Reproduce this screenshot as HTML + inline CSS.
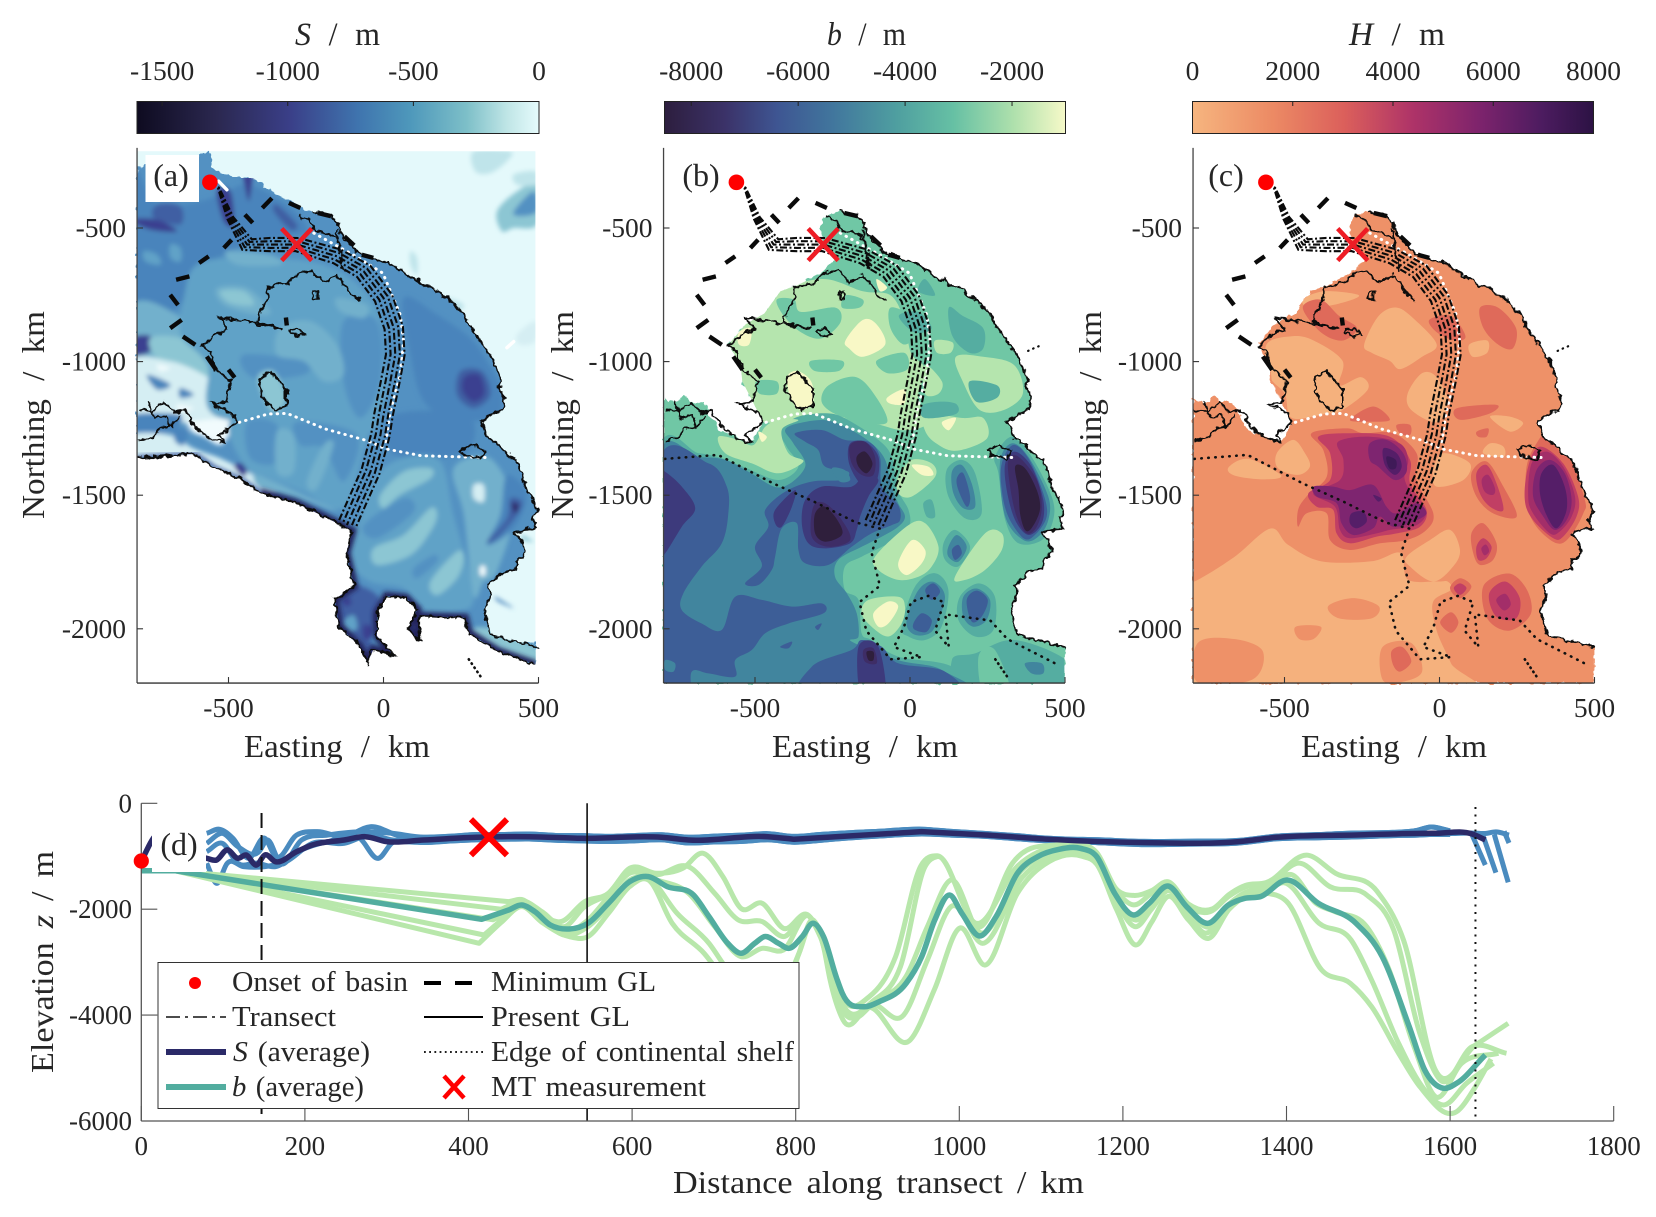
<!DOCTYPE html>
<html lang="en">
<head>
<meta charset="utf-8">
<title>Basin maps and transect elevation</title>
<style>
html,body{margin:0;padding:0;background:#fff}
svg{display:block}
text{font-family:"Liberation Serif",serif;fill:#262626}
.i{font-style:italic}
.w{word-spacing:.3em}
.n{word-spacing:.16em}
.l{word-spacing:.08em}
</style>
</head>
<body>
<svg id="fig" xmlns="http://www.w3.org/2000/svg" width="1656" height="1217" viewBox="0 0 1656 1217">
<defs>
<linearGradient id="gS"><stop offset="0" stop-color="#0e0b20"/><stop offset=".2" stop-color="#2b2850"/><stop offset=".38" stop-color="#3a3f88"/><stop offset=".55" stop-color="#3f74ae"/><stop offset=".68" stop-color="#4e98bb"/><stop offset=".82" stop-color="#7dbfc8"/><stop offset=".92" stop-color="#bfe5e6"/><stop offset="1" stop-color="#e6fbfc"/></linearGradient>
<linearGradient id="gB"><stop offset="0" stop-color="#2d1e3e"/><stop offset=".15" stop-color="#3b3268"/><stop offset=".28" stop-color="#3e5592"/><stop offset=".42" stop-color="#41769d"/><stop offset=".58" stop-color="#4f9fa0"/><stop offset=".72" stop-color="#66c0a4"/><stop offset=".87" stop-color="#aee0ac"/><stop offset="1" stop-color="#f6f9c8"/></linearGradient>
<linearGradient id="gH"><stop offset="0" stop-color="#f6b57f"/><stop offset=".2" stop-color="#ec8a64"/><stop offset=".38" stop-color="#db5f5b"/><stop offset=".55" stop-color="#ae3368"/><stop offset=".72" stop-color="#7c236c"/><stop offset=".87" stop-color="#4d1c60"/><stop offset="1" stop-color="#2c1244"/></linearGradient>
<filter id="soft" x="-5%" y="-5%" width="110%" height="110%"><feGaussianBlur stdDeviation="2.4"/></filter>
<filter id="rough" filterUnits="userSpaceOnUse" x="0" y="130" width="1656" height="570"><feTurbulence type="fractalNoise" baseFrequency="0.16" numOctaves="2" seed="4" result="n"/><feDisplacementMap in="SourceGraphic" in2="n" scale="7" xChannelSelector="R" yChannelSelector="G"/></filter>
</defs>

<g>
<text class="w" x="295" y="45" font-size="33" textLength="85" lengthAdjust="spacingAndGlyphs"><tspan class="i">S</tspan> / m</text>
<text class="w" x="827" y="45" font-size="33" textLength="79" lengthAdjust="spacingAndGlyphs"><tspan class="i">b</tspan> / m</text>
<text class="w" x="1349" y="45" font-size="33" textLength="96" lengthAdjust="spacingAndGlyphs"><tspan class="i">H</tspan> / m</text>
</g>
<rect x="137" y="101.5" width="402" height="32" fill="url(#gS)" stroke="#222" stroke-width="1"/>
<rect x="664.5" y="101.5" width="401" height="32" fill="url(#gB)" stroke="#222" stroke-width="1"/>
<rect x="1192.5" y="101.5" width="401" height="32" fill="url(#gH)" stroke="#222" stroke-width="1"/>

<g id="maps"></g>

<g>
<text class="w" x="244" y="757" font-size="32" textLength="186" lengthAdjust="spacingAndGlyphs">Easting / km</text>
<text class="w" x="772" y="757" font-size="32" textLength="186" lengthAdjust="spacingAndGlyphs">Easting / km</text>
<text class="w" x="1301" y="757" font-size="32" textLength="186" lengthAdjust="spacingAndGlyphs">Easting / km</text>
<text class="w" transform="translate(44 519) rotate(-90)" font-size="32" textLength="208" lengthAdjust="spacingAndGlyphs">Northing / km</text>
<text class="w" transform="translate(573 519) rotate(-90)" font-size="32" textLength="208" lengthAdjust="spacingAndGlyphs">Northing / km</text>
<text class="w" transform="translate(1101 519) rotate(-90)" font-size="32" textLength="208" lengthAdjust="spacingAndGlyphs">Northing / km</text>
</g>

<g id="transectChart"></g>

<text class="n" x="673" y="1193" font-size="32" textLength="411" lengthAdjust="spacingAndGlyphs">Distance along transect / km</text>
<text class="n" transform="translate(53 1073) rotate(-90)" font-size="32" textLength="222" lengthAdjust="spacingAndGlyphs">Elevation <tspan class="i">z</tspan> / m</text>

<g id="legendGroup">
<rect x="158" y="962.5" width="641" height="146" fill="#fff" stroke="#333" stroke-width="1"/>
<circle cx="195" cy="983" r="6" fill="#f00"/>
<text class="l" x="232" y="991" font-size="28" textLength="176" lengthAdjust="spacingAndGlyphs">Onset of basin</text>
<line x1="166" x2="226" y1="1017" y2="1017" stroke="#111" stroke-width="1.6" stroke-dasharray="14 5 3 5"/>
<text class="l" x="232" y="1026" font-size="28" textLength="104" lengthAdjust="spacingAndGlyphs">Transect</text>
<line x1="166" x2="226" y1="1052" y2="1052" stroke="#2b2a68" stroke-width="6"/>
<text class="l" x="233" y="1061" font-size="28" textLength="137" lengthAdjust="spacingAndGlyphs"><tspan class="i">S</tspan> (average)</text>
<line x1="166" x2="226" y1="1087" y2="1087" stroke="#52ad9f" stroke-width="6"/>
<text class="l" x="232" y="1096" font-size="28" textLength="132" lengthAdjust="spacingAndGlyphs"><tspan class="i">b</tspan> (average)</text>
<line x1="424" x2="483" y1="983" y2="983" stroke="#000" stroke-width="4" stroke-dasharray="17 14"/>
<text class="l" x="491" y="991" font-size="28" textLength="165" lengthAdjust="spacingAndGlyphs">Minimum GL</text>
<line x1="424" x2="483" y1="1017" y2="1017" stroke="#000" stroke-width="2"/>
<text class="l" x="491" y="1026" font-size="28" textLength="139" lengthAdjust="spacingAndGlyphs">Present GL</text>
<line x1="424" x2="483" y1="1052" y2="1052" stroke="#000" stroke-width="1.8" stroke-dasharray="1.8 3.4"/>
<text class="l" x="491" y="1061" font-size="28" textLength="303" lengthAdjust="spacingAndGlyphs">Edge of continental shelf</text>
<g stroke="#f00" stroke-width="4.5"><line x1="444" x2="464" y1="1076" y2="1098"/><line x1="464" x2="444" y1="1076" y2="1098"/></g>
<text class="l" x="491" y="1096" font-size="28" textLength="215" lengthAdjust="spacingAndGlyphs">MT measurement</text>
</g>
</svg>
<script>
// ---------- Shared map geography (easting km, northing km, flat lists) ----------
const coastEast=[-230,-437,-205,-445,-180,-448,-163,-462,-150,-480,-140,-520,-125,-540,-100,-570,-85,-590,-60,-600,-40,-610,-20,-620,15,-630,30,-640,60,-665,92,-691,110,-695,125,-715,160,-722,185,-750,210,-765,237,-798,262,-825,275,-860,303,-905,325,-945,348,-982,362,-1020,381,-1074,372,-1100,390,-1130,387,-1181,350,-1195,314,-1227,325,-1255,337,-1288,370,-1310,395,-1345,426,-1364,445,-1420,459,-1472,478,-1510,498,-1563,480,-1585,492,-1625,455,-1630,426,-1640,445,-1670,459,-1716,430,-1745,426,-1778,380,-1790,337,-1839,345,-1870,326,-1931,335,-1970,348,-2022,400,-2040,440,-2050,498,-2068];
const domainWest=[498,-2203,-795,-2203,-795,-1135,-760,-1160,-730,-1130,-700,-1150,-660,-1160,-641,-1211,-618,-1257,-570,-1275,-530,-1303,-505,-1290,-474,-1227,-507,-1150,-541,-1074,-546,-1013,-585,-936,-530,-860,-470,-820,-418,-737,-363,-714,-285,-668,-241,-622,-274,-569,-290,-500,-274,-454];
const iceFront=[-795,-1359,-706,-1352,-607,-1346,-546,-1396,-459,-1440,-398,-1490,-286,-1527,-175,-1590,-101,-1634,-120,-1715,-95,-1840,-157,-1890,-144,-1990,-77,-2065,-52,-2127,-33,-2077,35,-2102,-21,-2027,-21,-1940,10,-1877,72,-1884,109,-1927,78,-2002,115,-2040,115,-1952,263,-1959,275,-2015,368,-2084,491,-2134];
const landNorth=[-795,-275,-700,-250,-600,-235,-585,-219,-558,-219,-553,-275,-483,-313,-419,-313,-365,-363,-290,-405,-257,-430];
const groundingLine=[-324,-876,-408,-852,-397,-814,-374,-768,-374,-722,-308,-706,-274,-668,-230,-661,-197,-706,-152,-676,-130,-706,-102,-752,-74,-775];
const groundingLineWest=[-324,-876,-400,-862,-470,-845,-530,-837,-502,-882,-540,-895,-585,-944,-560,-960,-541,-1028,-491,-1074,-508,-1150,-552,-1158,-485,-1196,-474,-1227,-530,-1273,-513,-1303,-560,-1290,-608,-1242,-641,-1181,-675,-1190,-708,-1150,-745,-1185,-791,-1181];
const groundingLineIslands=[[-397,-1058,-363,-1035,-313,-1105,-313,-1166,-352,-1181,-391,-1135,-402,-1089,-397,-1058],[-302,-882,-274,-875,-252,-898,-274,-905,-302,-890,-302,-882],[-228,-740,-212,-738,-212,-765,-228,-765,-228,-740],[248,-1334,287,-1311,326,-1334,314,-1364,259,-1349,248,-1334],[-791,-1295,-752,-1288,-720,-1250,-685,-1242,-660,-1200],[-760,-1150,-740,-1210,-700,-1200,-690,-1250],[-152,-507,-140,-590,-130,-660],[-274,-454,-240,-470,-220,-510,-180,-520,-150,-540]];
const minimumGlDashes=[[-391,-425,-360,-388],[-305,-406,-268,-425],[-212,-444,-169,-456],[-447,-450,-422,-481],[-515,-575,-490,-544],[-595,-631,-564,-606],[-669,-694,-626,-681],[-688,-750,-663,-788],[-688,-875,-651,-844],[-647,-906,-607,-937],[-126,-531,-95,-565],[-70,-600,-33,-612],[-570,-981,-540,-1031],[-315,-835,-312,-865],[-500,-1030,-480,-1060]];
const shelfNorthSouth=[-225,-519,-89,-606,-2,-669,54,-824,65,-924,54,-1049,22,-1186,6,-1312];
const shelfEastWest=[-465,-1227,-373,-1196,-311,-1194,-188,-1252,-52,-1296,10,-1327,121,-1352,207,-1355,331,-1359];
const shelfSouth=[-791,-1364,-619,-1349,-441,-1456,-308,-1525,-174,-1602,-97,-1625,-124,-1716,-97,-1839,-163,-1900,-141,-2007,-63,-2114,37,-2106,-52,-2068,-19,-1992,3,-1900,59,-1877,109,-1900,81,-2007,125,-2068,114,-1946,259,-1969,314,-2038,481,-2137];
const shelfSpur=[275,-2114,320,-2190];
const shelfIsland=[381,-960,400,-950,425,-938];
const transectCentre=[-560,-329,-532,-350,-494,-463,-440,-562,-365,-562,-279,-562,-150,-606,-64,-662,0,-762,33,-874,38,-974,22,-1074,0,-1199,-10,-1275,-42,-1412,-85,-1524,-118,-1612];
const transectHalfWidth=[0,2,10,25,25,25,28,30,30,30,30,30,30,30,30,30,30];
const transectOffsets=[-1,-.5,0,.5,1];
const onsetPoint=[-560,-329];
const mtPoint=[-280,-562];
const surfaceWhiteFlecks=[[-532,-325,-505,-357],[398,-948,420,-925]];

// ---------- Panel (a) surface elevation contours: [colour index, flat km polygon] ----------
const surfaceColours=['#e4f9fb','#bfe4ea','#8cc6d3','#72b0cc','#61a2c7','#5391c2','#4884bc','#3f5fa3','#3b4090','#2f2766','#f1fbfd','#d5eef3'];
const surfaceBaseLevel=5;
const surfaceOcean=[
[1,[291,-213,409,-213,398,-250,345,-294,296,-288]],
[2,[366,-438,431,-363,495,-338,495,-487,420,-500,382,-512]],
[5,[420,-438,484,-363,495,-438,441,-456]],
[1,[420,-300,490,-288,490,-338,431,-338]],
[1,[87,-587,108,-612,108,-675,87,-637]],
[1,[205,-762,259,-787,237,-812]],
[11,[431,-899,490,-849,490,-924,441,-937]],
[2,[447,-1649,484,-1674,452,-1668]],
[6,[361,-1880,420,-1923,371,-1899]]
];
const surfaceContours=[
[6,[-815,-275,-730,-413,-591,-400,-505,-363,-430,-338,-300,-425,-247,-512,-344,-537,-472,-575,-612,-675,-666,-799,-815,-824]],
[7,[-730,-413,-655,-419,-655,-487,-741,-462]],
[8,[-815,-469,-730,-469,-666,-512,-752,-506]],
[8,[-537,-363,-494,-363,-483,-487,-515,-475]],
[8,[-451,-300,-424,-300,-435,-400]],
[7,[-344,-413,-279,-487,-300,-506,-354,-438]],
[4,[-773,-587,-730,-600,-720,-637,-768,-625]],
[4,[-687,-562,-655,-575,-655,-625,-687,-612]],
[3,[-815,-799,-666,-824,-580,-949,-537,-1074,-580,-1211,-815,-1211]],
[8,[-815,-912,-752,-905,-752,-962,-815,-974]],
[2,[-752,-912,-655,-912,-591,-974,-548,-1061,-601,-1074,-730,-987]],
[11,[-815,-999,-687,-999,-580,-1049,-526,-1099,-494,-1174,-483,-1211,-815,-1211]],
[6,[-815,-1200,-655,-1200,-687,-1262,-815,-1262]],
[10,[-634,-1225,-483,-1212,-494,-1262,-526,-1312,-580,-1281,-618,-1262,-644,-1212]],
[6,[-763,-1049,-687,-1086,-730,-1105]],
[6,[-655,-1099,-612,-1124,-655,-1136]],
[10,[-666,-1161,-612,-1174,-655,-1186]],
[10,[-558,-1124,-526,-1149,-558,-1161]],
[10,[-730,-1011,-687,-1024,-720,-1036]],
[11,[-815,-1275,-687,-1275,-612,-1325,-526,-1362,-440,-1412,-333,-1480,-387,-1499,-440,-1462,-537,-1412,-612,-1356,-815,-1362]],
[6,[-677,-1250,-634,-1262,-644,-1312,-671,-1300]],
[8,[-483,-1387,-440,-1387,-451,-1431]],
[4,[-601,-637,-440,-612,-193,-637,-42,-762,0,-949,-42,-1211,-526,-1211,-569,-1011,-655,-899,-644,-762]],
[4,[-472,-1200,-42,-1200,-53,-1287,-64,-1337,-129,-1549,-257,-1487,-365,-1437,-451,-1387]],
[5,[-129,-849,-21,-849,-10,-1074,-75,-1211,-129,-1074]],
[5,[-451,-974,-257,-999,-257,-1049,-419,-1061]],
[5,[-440,-1225,-344,-1237,-344,-1375,-430,-1362]],
[5,[-279,-1225,-85,-1275,-129,-1449,-193,-1325,-268,-1312]],
[3,[-537,-725,-440,-725,-365,-812,-408,-824,-515,-787]],
[2,[-526,-737,-451,-737,-419,-787,-494,-781]],
[3,[-333,-874,-236,-849,-150,-937,-129,-1049,-193,-1074,-257,-999,-344,-974]],
[3,[-505,-587,-365,-600,-333,-637,-472,-637]],
[3,[-150,-762,-53,-787,-64,-837,-139,-812]],
[3,[-344,-1262,-290,-1275,-290,-1412,-344,-1412]],
[3,[-193,-1312,-161,-1312,-215,-1474,-247,-1449]],
[3,[-408,-1424,-257,-1499,-150,-1562,-279,-1512,-397,-1474]],
[2,[-403,-1049,-354,-1036,-317,-1124,-333,-1180,-365,-1180,-397,-1111]],
[6,[65,-762,173,-824,280,-912,334,-999,377,-1099,366,-1211,226,-1211,130,-1149,87,-974]],
[6,[33,-1200,269,-1200,280,-1325,173,-1362,22,-1337]],
[7,[248,-1036,318,-1036,345,-1124,291,-1174,237,-1124]],
[8,[262,-1056,310,-1050,325,-1120,290,-1150,255,-1110]],
[4,[-85,-1624,0,-1399,173,-1362,226,-1574,291,-1874,237,-1936,130,-1936,65,-1849,-42,-1824,-107,-1749]],
[5,[-64,-1612,65,-1512,97,-1562,-21,-1661]],
[5,[97,-1774,162,-1724,173,-1749,108,-1811]],
[2,[-10,-1499,65,-1412,151,-1399,151,-1437,54,-1499,0,-1549]],
[2,[65,-1649,151,-1549,173,-1574,151,-1637,87,-1724,-21,-1761,-32,-1699]],
[2,[151,-1824,237,-1711,259,-1736,237,-1811,173,-1874]],
[3,[226,-1399,345,-1362,420,-1549,366,-1786,323,-1824,291,-1874,259,-1574]],
[6,[398,-1425,463,-1499,420,-1624,334,-1686,377,-1574]],
[7,[409,-1512,447,-1524,431,-1574,366,-1661,334,-1674,398,-1587]],
[9,[414,-1530,436,-1537,425,-1568]],
[11,[291,-1462,323,-1462,323,-1524,291,-1512]],
[10,[312,-1767,328,-1767,328,-1799,312,-1799]],
[2,[280,-2011,345,-1998,495,-2073,495,-2136,366,-2073]],
[7,[-161,-1874,-96,-1836,-21,-1874,-10,-1936,-42,-2048,33,-2098,33,-2117,-42,-2123,-85,-2098,-150,-1973]],
[4,[-129,-1973,-96,-1949,-85,-1998,-118,-2011]],
[8,[-129,-1886,-107,-1886,-107,-1911,-129,-1911]],
[8,[-64,-1986,-32,-1998,-42,-2036,-64,-2036]],
[7,[78,-2002,115,-1950,115,-2050]]
];

// ---------- Panel (b) bed elevation contours ----------
const bedColours=['#2f1f3c','#3e2d66','#3d3a7c','#3d5e97','#41859e','#55ada1','#70c7a5','#b5e5ae','#f8f8c6'];
const bedBaseLevel=6;
const bedContours=[
[7,[-441,-752,-285,-691,-152,-737,-63,-752,-19,-844,3,-967,48,-1028,26,-1135,59,-1227,-19,-1257,-130,-1227,-241,-1211,-363,-1242,-463,-1227,-541,-1211,-574,-1013,-585,-921]],
[6,[-430,-768,-374,-768,-352,-814,-241,-798,-224,-852,-285,-913,-352,-890,-407,-829]],
[6,[-208,-752,-152,-768,-163,-798,-219,-798]],
[6,[-108,-997,-19,-967,-8,-1028,-74,-1043]],
[6,[-319,-997,-219,-997,-230,-1035,-307,-1035]],
[6,[-496,-1074,-430,-1074,-430,-1120,-485,-1120]],
[6,[-263,-1089,-174,-1058,-108,-1135,-74,-1227,-152,-1227,-241,-1196,-285,-1150]],
[6,[-63,-798,3,-829,26,-890,-19,-936,-63,-875]],
[7,[148,-982,236,-982,336,-1013,364,-1120,303,-1181,225,-1181,170,-1074]],
[7,[48,-1196,170,-1211,236,-1211,248,-1288,148,-1334,81,-1303,48,-1257]],
[7,[81,-921,137,-928,131,-967,87,-967]],
[7,[48,-1013,103,-1074,92,-1120,48,-1120]],
[5,[125,-798,170,-829,236,-875,236,-951,192,-967,137,-905]],
[5,[-36,-829,26,-814,70,-875,14,-890]],
[5,[37,-1166,92,-1150,148,-1158,148,-1196,48,-1211]],
[5,[192,-1074,281,-1089,281,-1135,214,-1150]],
[5,[48,-691,81,-752,26,-737]],
[8,[-208,-921,-152,-844,-108,-860,-80,-936,-152,-982,-196,-951]],
[8,[-396,-1058,-363,-1035,-319,-1074,-313,-1150,-352,-1181,-385,-1135]],
[8,[-74,-1135,-19,-1104,-19,-1158,-63,-1158]],
[8,[-108,-691,-74,-722,-97,-737]],
[8,[-552,-890,-513,-875,-519,-936,-552,-936]],
[8,[103,-1227,148,-1211,125,-1257]],
[5,[-811,-1343,-682,-1343,-607,-1362,-527,-1399,-424,-1443,-360,-1393,-398,-1318,-419,-1256,-360,-1206,-263,-1194,-199,-1219,-102,-1293,-59,-1356,-38,-1481,-5,-1555,-5,-1618,-70,-1680,-156,-1730,-210,-1767,-210,-1855,-166,-1892,-156,-2017,-124,-2042,-38,-2104,135,-2142,178,-2260,-811,-2260]],
[5,[135,-2117,210,-2092,339,-2042,516,-2129,516,-2260,178,-2260]],
[6,[221,-2104,274,-2079,328,-2260,242,-2260]],
[4,[371,-2129,425,-2129,430,-2167,392,-2167]],
[4,[-811,-1366,-682,-1358,-596,-1368,-521,-1412,-419,-1471,-338,-1393,-376,-1306,-403,-1256,-360,-1231,-274,-1219,-199,-1250,-124,-1306,-80,-1368,-59,-1468,-38,-1530,-16,-1580,-38,-1618,-91,-1655,-156,-1693,-231,-1742,-242,-1805,-204,-1867,-172,-1942,-166,-2029,-188,-2048,-38,-2117,102,-2154,145,-2260,-811,-2260]],
[3,[-811,-1381,-650,-1381,-591,-1468,-586,-1568,-607,-1680,-672,-1767,-731,-1867,-736,-1930,-672,-1980,-607,-2004,-564,-1880,-478,-1892,-381,-1917,-285,-1905,-279,-1942,-392,-1980,-467,-2017,-510,-2079,-564,-2117,-564,-2179,-650,-2167,-704,-2160,-715,-2260,-811,-2260]],
[4,[-790,-2117,-758,-2129,-763,-2160,-790,-2154]],
[3,[-419,-2067,-381,-2048,-392,-2073]],
[3,[-306,-1992,-285,-1980,-296,-2004]],
[3,[-328,-2260,-317,-2142,-188,-2079,-156,-2042,-91,-2067,-38,-2129,113,-2160,145,-2260]],
[2,[-166,-2067,-102,-2067,-80,-2260,-156,-2260]],
[1,[-150,-2079,-118,-2073,-107,-2129,-145,-2123]],
[0,[-140,-2086,-118,-2086,-118,-2117,-134,-2117]],
[2,[-811,-1412,-790,-1412,-736,-1468,-693,-1549,-736,-1618,-790,-1718,-811,-1730]],
[3,[-371,-1268,-285,-1256,-210,-1293,-134,-1300,-97,-1356,-91,-1468,-38,-1537,-32,-1593,-59,-1612,-124,-1643,-188,-1693,-263,-1761,-338,-1755,-360,-1705,-365,-1605,-414,-1624,-435,-1730,-446,-1780,-489,-1836,-532,-1830,-478,-1767,-500,-1693,-457,-1618,-467,-1555,-403,-1487,-317,-1449,-220,-1443,-199,-1412,-274,-1393,-296,-1331,-338,-1300]],
[4,[-252,-1399,-210,-1406,-193,-1443,-226,-1449]],
[2,[-435,-1555,-371,-1481,-381,-1543,-414,-1618,-435,-1605]],
[2,[-193,-1306,-145,-1300,-102,-1356,-107,-1443,-145,-1468,-177,-1431,-199,-1368]],
[2,[-338,-1518,-285,-1468,-188,-1468,-145,-1418,-102,-1443,-134,-1505,-161,-1580,-172,-1630,-193,-1680,-274,-1699,-328,-1680,-349,-1605]],
[1,[-312,-1543,-274,-1530,-220,-1593,-193,-1668,-263,-1693,-317,-1655]],
[0,[-306,-1568,-274,-1543,-231,-1599,-220,-1649,-274,-1674,-306,-1643]],
[1,[-193,-1312,-145,-1300,-113,-1356,-118,-1424,-156,-1424,-188,-1381]],
[0,[-172,-1356,-145,-1337,-121,-1381,-140,-1418,-166,-1393]],
[5,[285,-1418,274,-1356,328,-1281,392,-1356,457,-1505,462,-1593,425,-1668,350,-1680,307,-1593]],
[4,[290,-1381,328,-1306,382,-1356,446,-1505,446,-1593,414,-1655,366,-1668,307,-1580]],
[3,[296,-1381,333,-1312,382,-1362,430,-1493,441,-1580,403,-1649,366,-1661,317,-1580,296,-1481]],
[2,[307,-1381,339,-1337,392,-1393,430,-1518,425,-1605,382,-1649,339,-1593,312,-1481]],
[1,[317,-1368,350,-1356,409,-1443,425,-1543,409,-1618,376,-1643,344,-1580,323,-1468]],
[0,[339,-1393,371,-1399,409,-1481,419,-1555,392,-1624,371,-1630,355,-1568,350,-1481]],
[5,[118,-1406,167,-1368,210,-1418,231,-1568,178,-1587,124,-1505]],
[4,[135,-1412,167,-1387,199,-1456,210,-1543,172,-1549,140,-1493]],
[3,[151,-1437,172,-1418,194,-1505,183,-1543,156,-1481]],
[5,[43,-1530,70,-1518,81,-1580,54,-1580]],
[5,[108,-1680,145,-1630,194,-1693,156,-1767,113,-1742]],
[4,[124,-1693,151,-1649,183,-1693,156,-1749,124,-1730]],
[3,[135,-1705,156,-1686,167,-1718,145,-1742]],
[5,[161,-1880,221,-1830,274,-1880,269,-2004,210,-2029,156,-1967]],
[4,[172,-1880,215,-1849,258,-1892,247,-1967,204,-1992,172,-1955]],
[3,[183,-1892,215,-1857,251,-1892,231,-1955,199,-1973]],
[5,[-27,-1992,16,-1842,81,-1792,124,-1855,102,-1992,49,-2042,-5,-2029]],
[4,[-11,-1967,27,-1855,75,-1824,113,-1880,81,-1992,49,-2023,6,-2017]],
[3,[11,-1980,38,-1942,70,-1967,54,-2011,16,-2004]],
[3,[49,-1855,75,-1830,97,-1861,70,-1892]],
[7,[-113,-1730,-5,-1612,49,-1605,92,-1693,70,-1767,27,-1805,-38,-1817,-102,-1780]],
[8,[-38,-1755,6,-1668,49,-1705,38,-1755,-11,-1799]],
[7,[145,-1805,242,-1643,296,-1643,296,-1705,242,-1780,178,-1817]],
[7,[-134,-1892,-38,-1880,-16,-1917,-27,-1980,-70,-2029,-124,-1992,-156,-1942]],
[8,[-118,-1942,-70,-1898,-38,-1917,-70,-1980,-102,-1992]],
[7,[-618,-1281,-553,-1293,-505,-1312,-467,-1244,-424,-1219,-360,-1219,-414,-1256,-392,-1343,-344,-1374,-424,-1418,-510,-1381,-596,-1343]],
[8,[-489,-1262,-462,-1281,-478,-1300]],
[7,[-38,-1431,6,-1368,70,-1381,81,-1431,6,-1505,-38,-1493]],
[8,[6,-1387,59,-1393,75,-1424,38,-1424]]
];

// ---------- Panel (c) thickness contours ----------
const thicknessColours=['#f5b17d','#ee9168','#df6a5a','#c13f64','#a32e69','#7e2570','#551e68','#3f1a58'];
const thicknessBaseLevel=1;
const thicknessContours=[
[0,[-838,-1823,-791,-1823,-663,-1732,-546,-1625,-488,-1686,-383,-1747,-219,-1747,-126,-1716,-103,-1815,-9,-1823,26,-1823,37,-1854,-21,-1900,-9,-2007,37,-2129,84,-2260,-838,-2260]],
[0,[-106,-1730,-31,-1668,34,-1630,66,-1705,44,-1767,-20,-1823,-95,-1767]],
[1,[-780,-2053,-663,-2038,-570,-2084,-604,-2190,-780,-2200]],
[1,[-359,-1915,-278,-1885,-196,-1915,-219,-1961,-324,-1961]],
[1,[-464,-1992,-383,-1992,-406,-2038,-453,-2038]],
[1,[-184,-2068,-91,-2053,-56,-2160,-126,-2200,-184,-2190]],
[0,[-243,-936,-196,-829,-138,-798,-79,-844,-9,-936,-56,-982,-126,-1028,-161,-997,-219,-967]],
[0,[-558,-936,-476,-905,-406,-921,-313,-997,-324,-1089,-254,-1058,-231,-1104,-313,-1181,-371,-1196,-476,-1211,-499,-1120,-546,-1058]],
[0,[-441,-768,-371,-737,-260,-752,-324,-783,-418,-798]],
[0,[-103,-1120,-56,-1043,-9,-1058,26,-1150,-9,-1227,-91,-1181]],
[0,[163,-1206,227,-1206,270,-1231,227,-1262]],
[0,[-525,-1343,-472,-1293,-434,-1343,-418,-1393,-456,-1424,-520,-1400]],
[0,[-680,-1395,-616,-1364,-511,-1426,-570,-1441,-663,-1426]],
[0,[12,-1343,98,-1381,77,-1443,-10,-1468,-20,-1405]],
[0,[163,-1306,206,-1318,206,-1356,141,-1343]],
[0,[96,-936,154,-921,154,-967,107,-982]],
[2,[131,-798,189,-798,247,-875,236,-951,189,-936,142,-875]],
[2,[-33,-844,37,-829,84,-905,49,-921,-9,-890]],
[2,[-441,-798,-383,-768,-324,-829,-266,-875,-313,-921,-383,-890]],
[2,[55,-1175,184,-1162,163,-1194,66,-1218]],
[2,[120,-1262,157,-1250,152,-1281,125,-1281]],
[2,[-138,-1237,-95,-1237,-95,-1275,-128,-1268]],
[2,[-289,-1218,-214,-1168,-160,-1218,-225,-1225]],
[2,[-413,-1268,-300,-1250,-246,-1268,-149,-1268,-74,-1343,-74,-1443,-20,-1568,-42,-1630,-106,-1668,-192,-1680,-289,-1705,-353,-1668,-364,-1568,-429,-1568,-456,-1618,-456,-1555,-429,-1505,-364,-1431,-375,-1331]],
[3,[-391,-1281,-289,-1268,-160,-1281,-95,-1368,-95,-1456,-42,-1555,-63,-1618,-138,-1643,-203,-1655,-289,-1680,-332,-1643,-343,-1555,-396,-1543,-423,-1493,-353,-1443,-353,-1343]],
[4,[-327,-1300,-225,-1281,-128,-1306,-101,-1368,-112,-1443,-63,-1543,-42,-1568,-74,-1612,-160,-1630,-203,-1643,-289,-1661,-321,-1630,-337,-1543,-407,-1493,-321,-1443,-310,-1368]],
[5,[-225,-1306,-171,-1293,-117,-1343,-106,-1412,-144,-1443,-198,-1393,-225,-1368]],
[5,[-407,-1468,-343,-1468,-289,-1481,-214,-1462,-171,-1543,-138,-1568,-74,-1530,-42,-1568,-85,-1599,-149,-1618,-192,-1580,-214,-1624,-278,-1649,-316,-1605,-332,-1530,-396,-1505]],
[6,[-181,-1325,-138,-1343,-122,-1393,-144,-1424,-176,-1387]],
[6,[-284,-1568,-246,-1562,-235,-1599,-267,-1624,-289,-1605]],
[6,[-214,-1499,-187,-1512,-198,-1524]],
[7,[-171,-1356,-141,-1368,-141,-1399,-162,-1399]],
[2,[281,-1393,313,-1306,345,-1281,421,-1368,469,-1518,464,-1568,421,-1655,378,-1680,313,-1618,281,-1530]],
[3,[286,-1393,324,-1318,399,-1381,447,-1505,442,-1580,399,-1655,367,-1661,302,-1593,275,-1518]],
[4,[297,-1381,345,-1337,399,-1393,437,-1505,426,-1580,388,-1636,356,-1643,302,-1568,286,-1505]],
[5,[313,-1406,356,-1368,404,-1418,426,-1518,410,-1593,372,-1630,335,-1580,302,-1505]],
[6,[329,-1418,367,-1387,404,-1468,410,-1555,378,-1624,345,-1574,324,-1493]],
[2,[103,-1418,152,-1374,206,-1468,249,-1580,173,-1568,119,-1505]],
[3,[119,-1418,152,-1387,184,-1456,206,-1555,163,-1543,130,-1493]],
[4,[136,-1443,157,-1424,179,-1474,173,-1499,146,-1487]],
[2,[103,-1643,141,-1605,184,-1680,173,-1742,130,-1761,109,-1718]],
[3,[119,-1693,141,-1661,168,-1693,152,-1736,125,-1742]],
[4,[135,-1700,150,-1685,160,-1710,145,-1725]],
[2,[34,-1848,66,-1811,103,-1842,66,-1886]],
[3,[46,-1848,66,-1830,87,-1848,66,-1873]],
[2,[142,-1839,224,-1793,282,-1854,294,-1946,224,-2007,154,-1961]],
[3,[160,-1869,212,-1823,259,-1885,247,-1961,183,-1954]],
[4,[183,-1892,212,-1869,230,-1908,207,-1931]],
[2,[2,-1976,37,-1938,61,-1976,37,-2015]],
[2,[-155,-2084,-120,-2068,-91,-2122,-126,-2160,-149,-2137]]
];

// ---------- Map axes ----------
const mapEastingTicks=[-500,0,500];
const mapNorthingTicks=[-500,-1000,-1500,-2000];
const surfaceBarTicks=[-1500,-1000,-500,0];
const bedBarTicks=[-8000,-6000,-4000,-2000];
const thicknessBarTicks=[0,2000,4000,6000,8000];

// ---------- Panel (d) transect profiles: distance km, elevation m ----------
const distanceTicks=[0,200,400,600,800,1000,1200,1400,1600,1800];
const elevationTicks=[0,-2000,-4000,-6000];
const surfaceAvgDist=[0,13,80,92,105,118,128,141,151,164,190,209,248,274,300,345,410,474,539,636,669,766,798,954,1032,1109,1226,1342,1388,1485,1582,1627,1643];
const surfaceAvgElev=[-1100,-700,-1039,-1070,-881,-1039,-976,-1165,-976,-1102,-913,-787,-693,-630,-724,-693,-642,-630,-661,-642,-693,-630,-680,-535,-598,-680,-743,-724,-642,-598,-567,-579,-692];
const surfaceTailDist=[345,380,410,440,474,510,539,570,600,636,669,700,735,766,798,830,860,900,954,990,1032,1070,1109,1170,1226,1280,1342,1388,1440,1485,1530,1560,1575,1600];
const surfaceTailUpperElev=[-640,-620,-590,-590,-580,-610,-610,-625,-610,-595,-640,-620,-600,-575,-625,-590,-560,-530,-490,-530,-570,-610,-660,-690,-720,-715,-700,-620,-590,-560,-550,-510,-450,-520];
const surfaceTailLowerElev=[-740,-710,-690,-680,-675,-700,-710,-720,-710,-690,-750,-730,-720,-690,-735,-700,-660,-620,-580,-600,-625,-670,-710,-745,-780,-770,-750,-670,-650,-635,-610,-600,-590,-590];
const surfaceLine1Dist=[80,96,112,131,151,164,190,215,248,280,319];
const surfaceLine1Elev=[-567,-491,-661,-1039,-661,-1007,-598,-535,-630,-441,-630];
const surfaceLine2Dist=[80,99,118,144,154,170,196,228,274,306];
const surfaceLine2Elev=[-755,-567,-818,-913,-693,-1133,-693,-598,-535,-567];
const surfaceLine3Dist=[80,99,118,141,164,196,228,267,290,306];
const surfaceLine3Elev=[-913,-755,-1133,-1130,-1196,-881,-724,-661,-1039,-755];
const surfaceLine4Dist=[80,92,105,125,151,177,209,248,280,306];
const surfaceLine4Elev=[-1133,-1511,-1133,-1196,-1196,-1102,-755,-755,-598,-692];
const surfaceEndDist=[[1627,1643],[1640,1656],[1654,1671],[1666,1672]];
const surfaceEndElev=[[-600,-1165],[-600,-1310],[-590,-1492],[-530,-750]];
const surfaceShelfDist=[1582,1600,1627,1643,1656,1672];
const surfaceShelfElev=[-560,-570,-560,-570,-540,-600];
const bedAvgDist=[0,41,416,449,465,481,500,523,546,571,597,620,643,675,694,717,733,750,762,779,792,808,821,834,850,857,883,902,935,954,970,988,1003,1025,1045,1071,1096,1122,1148,1168,1190,1213,1232,1255,1278,1304,1329,1349,1368,1401,1439,1485,1517,1550,1569,1592,1608,1643];
const bedAvgElev=[-1272,-1272,-2191,-2015,-1920,-2046,-2298,-2374,-2267,-1889,-1480,-1385,-1574,-1731,-2140,-2644,-2833,-2644,-2518,-2644,-2739,-2518,-2267,-2518,-3300,-3589,-3841,-3746,-3400,-2896,-2203,-1731,-2078,-2506,-2140,-1322,-1007,-869,-850,-1007,-1700,-2109,-1889,-1561,-1952,-2266,-1920,-1794,-1763,-1448,-1889,-2266,-2896,-4218,-5037,-5383,-5288,-4753];
const bedLine1Dist=[41,413,440,465,490,523,546,571,597,620,649,688,714,750,785,804,821,834,842,858,890,940,970,1000,1032,1071,1110,1150,1168,1192,1216,1235,1255,1280,1305,1330,1350,1375,1400,1443,1478,1504,1537,1563,1608,1631,1650];
const bedLine1Elev=[-1272,-2644,-2250,-1950,-2250,-2518,-2518,-2078,-1574,-1448,-2266,-2833,-3337,-3700,-3700,-2833,-2200,-2707,-3337,-4092,-3850,-4470,-3500,-2360,-3054,-1700,-1100,-1000,-1150,-2000,-2676,-2250,-1760,-2200,-2550,-2000,-1760,-1700,-1850,-3148,-3400,-3840,-4722,-5350,-5824,-5350,-4830];
const bedLine2Dist=[41,419,445,465,490,517,546,571,597,620,655,694,717,750,785,804,821,834,842,860,895,932,961,990,1029,1077,1122,1150,1168,1192,1216,1235,1255,1280,1300,1330,1350,1375,1397,1440,1479,1504,1537,1569,1592,1620,1653];
const bedLine2Elev=[-1272,-2487,-2150,-1930,-2200,-2487,-2330,-1952,-1448,-1420,-2078,-2644,-3148,-3600,-3500,-2833,-2220,-2650,-3300,-3970,-3800,-3998,-2960,-1950,-2644,-1400,-950,-920,-1080,-1850,-2330,-2000,-1650,-2100,-2450,-1950,-1700,-1650,-1500,-2266,-2581,-3337,-4533,-5414,-5698,-5288,-4910];
const bedLine3Dist=[41,430,450,467,490,517,546,571,597,630,669,701,733,759,785,817,830,842,857,901,935,961,990,1025,1077,1122,1150,1168,1192,1216,1235,1255,1280,1304,1330,1350,1375,1407,1436,1459,1498,1524,1556,1582,1614,1659];
const bedLine3Elev=[-1272,-2200,-2050,-1900,-2100,-2420,-2204,-1763,-1322,-1448,-1700,-2330,-2896,-2739,-2770,-2140,-2500,-3150,-3850,-3700,-3270,-2330,-1448,-2440,-1250,-900,-880,-1020,-1750,-2205,-1900,-1560,-2000,-2340,-1900,-1680,-1620,-1350,-1889,-2046,-2330,-3085,-4596,-5540,-4910,-4722];
const bedLine4Dist=[41,440,455,467,490,517,542,571,597,630,669,701,730,759,785,817,830,842,857,896,928,958,973,1021,1071,1122,1150,1168,1192,1213,1235,1255,1280,1306,1330,1350,1375,1416,1453,1498,1531,1563,1588,1627,1669];
const bedLine4Elev=[-1272,-2000,-1900,-1850,-2050,-2330,-1952,-1700,-1259,-1350,-1196,-1700,-2204,-2235,-2518,-2140,-2500,-3100,-3780,-3715,-3085,-1200,-1007,-2266,-1190,-800,-790,-950,-1650,-1918,-1700,-1500,-1950,-2050,-1750,-1580,-1560,-1130,-1574,-1731,-2392,-4344,-5225,-4596,-4722];
const bedLine5Dist=[41,449,467,481,513,542,571,597,630,662,687,711,733,759,785,817,830,842,857,890,922,953,973,1026,1065,1122,1150,1168,1192,1213,1235,1255,1280,1310,1330,1350,1375,1426,1460,1511,1543,1582,1631,1671];
const bedLine5Elev=[-1272,-1857,-1826,-1983,-2235,-1857,-1700,-1228,-1322,-1228,-944,-1385,-1983,-1889,-2361,-2140,-2518,-2960,-3650,-3650,-2900,-1180,-990,-2330,-1130,-780,-770,-930,-1620,-1740,-1650,-1480,-1900,-1990,-1720,-1550,-1500,-980,-1322,-1668,-2581,-5037,-4565,-4155];
const minGlDistance=[147];
const presentGlDistance=[545];
const shelfDistance=[1631];
const onsetProfile=[0,-1089];
const mtProfile=[425,-642];

// ---------- Helpers ----------
const NS='http://www.w3.org/2000/svg';
function mk(tag,attrs,parent,name){
  const el=document.createElementNS(NS,tag);
  for(const k in attrs)el.setAttribute(k,attrs[k]);
  
  
  parent.appendChild(el);
  return el;
}
function label(parent,x,y,str,size,anchor,name){
  const t=mk('text',{x:x,y:y,'font-size':size,'text-anchor':anchor},parent,name);
  t.textContent=str;
  return t;
}
function toPoints(flat,sx,sy){const o=[];for(let i=0;i<flat.length;i+=2)o.push([sx(flat[i]),sy(flat[i+1])]);return o;}
function straight(pts,close){return 'M'+pts.map(p=>p[0].toFixed(1)+' '+p[1].toFixed(1)).join('L')+(close?'Z':'');}
function smoothClosed(pts){
  const n=pts.length;let d='M'+pts[0][0].toFixed(1)+' '+pts[0][1].toFixed(1);
  for(let i=0;i<n;i++){
    const a=pts[(i-1+n)%n],b=pts[i],c=pts[(i+1)%n],e=pts[(i+2)%n];
    d+='C'+(b[0]+(c[0]-a[0])/6).toFixed(1)+' '+(b[1]+(c[1]-a[1])/6).toFixed(1)+' '+(c[0]-(e[0]-b[0])/6).toFixed(1)+' '+(c[1]-(e[1]-b[1])/6).toFixed(1)+' '+c[0].toFixed(1)+' '+c[1].toFixed(1);
  }
  return d+'Z';
}
function smoothProfile(pts){
  const n=pts.length;
  const slope=i=>{
    if(i===0)return (pts[1][1]-pts[0][1])/(pts[1][0]-pts[0][0]);
    if(i===n-1)return (pts[n-1][1]-pts[n-2][1])/(pts[n-1][0]-pts[n-2][0]);
    const l=pts[i][0]-pts[i-1][0],r=pts[i+1][0]-pts[i][0];
    const sl=(pts[i][1]-pts[i-1][1])/l,sr=(pts[i+1][1]-pts[i][1])/r;
    if(l>100)return sr;
    if(r>100)return sl;
    return (sl*r+sr*l)/(l+r);
  };
  let d='M'+pts[0][0].toFixed(1)+' '+pts[0][1].toFixed(1);
  for(let i=0;i<n-1;i++){
    const h=(pts[i+1][0]-pts[i][0])/3;
    if(h*3>100){d+='L'+pts[i+1][0].toFixed(1)+' '+pts[i+1][1].toFixed(1);continue;}
    d+='C'+(pts[i][0]+h).toFixed(1)+' '+(pts[i][1]+slope(i)*h).toFixed(1)+' '+(pts[i+1][0]-h).toFixed(1)+' '+(pts[i+1][1]-slope(i+1)*h).toFixed(1)+' '+pts[i+1][0].toFixed(1)+' '+pts[i+1][1].toFixed(1);
  }
  return d;
}
function reversedPairs(flat){const o=[];for(let i=flat.length-2;i>=0;i-=2)o.push(flat[i],flat[i+1]);return o;}

// ---------- Draw map panels ----------
const mapsRoot=document.getElementById('maps');
const panels=[
 {key:'a',zero:383.5,tag:'(a)',barTicks:surfaceBarTicks,barMin:-1600,barMax:0,barLeft:137,barRight:539,labelX:171},
 {key:'b',zero:910,tag:'(b)',barTicks:bedBarTicks,barMin:-8500,barMax:-1000,barLeft:664.5,barRight:1065.5,labelX:701},
 {key:'c',zero:1439.5,tag:'(c)',barTicks:thicknessBarTicks,barMin:0,barMax:8000,barLeft:1192.5,barRight:1593.5,labelX:1226}
];
panels.forEach(P=>{
  const sx=e=>P.zero+e*0.31;
  const sy=n=>228+(-500-n)*0.2672;
  const g=mk('g',{},mapsRoot,'map-panel-'+P.key);
  const left=sx(-795),right=sx(500),top=sy(-200),bottom=sy(-2203);
  const domain=straight(toPoints(coastEast.concat(domainWest),sx,sy),true);
  const clipId='clip'+P.key;
  const clip=mk('clipPath',{id:clipId},g,'map-clip-'+P.key);
  if(P.key==='a'){
    const land=landNorth.concat(coastEast.slice(0,coastEast.length-2),[491,-2052],reversedPairs(iceFront));
    mk('path',{d:straight(toPoints(land,sx,sy),true)},clip,'map-clip-shape');
    mk('path',{d:straight(toPoints([-795,-213,490,-213,490,-2134].concat(reversedPairs(iceFront)),sx,sy),true),fill:surfaceColours[0]},g,'ocean-background');
    const oceanClip=mk('clipPath',{id:'clipOcean'},g,'ocean-clip');
    mk('rect',{x:sx(-795),y:sy(-213),width:sx(490)-sx(-795),height:sy(-2134)-sy(-213)},oceanClip,'ocean-clip-rect');
    const og=mk('g',{'clip-path':'url(#clipOcean)'},g,'ocean-patches');
    const ogInner=mk('g',{filter:'url(#soft)'},og,'ocean-patch-group');
    surfaceOcean.forEach(c=>{mk('path',{d:smoothClosed(toPoints(c[1],sx,sy)),fill:surfaceColours[c[0]]},ogInner,'ocean-contour');});
    mk('path',{d:straight(toPoints(land,sx,sy),true),fill:surfaceColours[surfaceBaseLevel],filter:'url(#rough)'},g,'surface-base');
    const cg=mk('g',{'clip-path':'url(#'+clipId+')'},g,'surface-contours');
    const inner=mk('g',{filter:'url(#soft)'},cg,'surface-contour-group');
    surfaceContours.forEach(c=>{mk('path',{d:smoothClosed(toPoints(c[1],sx,sy)),fill:surfaceColours[c[0]]},inner,'surface-contour');});
    mk('path',{d:straight(toPoints(iceFront.slice(10),sx,sy)),fill:'none',stroke:'#22205a','stroke-width':8,filter:'url(#soft)'},cg,'ice-front-shading');
    mk('path',{d:straight(toPoints(iceFront.slice(0,12),sx,sy)),fill:'none',stroke:'#3f5a9f','stroke-width':4,filter:'url(#soft)'},cg,'ice-front-shading-west');
    mk('path',{d:straight(toPoints(iceFront,sx,sy)),fill:'none',stroke:'#111','stroke-width':2,filter:'url(#rough)'},g,'ice-front-line');
  }else{
    mk('path',{d:domain},clip,'map-clip-shape');
    const colours=P.key==='b'?bedColours:thicknessColours;
    const base=P.key==='b'?bedBaseLevel:thicknessBaseLevel;
    const contours=P.key==='b'?bedContours:thicknessContours;
    mk('path',{d:domain,fill:colours[base],filter:'url(#rough)'},g,'domain-base');
    const cg=mk('g',{'clip-path':'url(#'+clipId+')'},g,'contour-group');
    contours.forEach(c=>{mk('path',{d:smoothClosed(toPoints(c[1],sx,sy)),fill:colours[c[0]]},cg,'filled-contour');});
  }
  // shelf edge
  [shelfNorthSouth,shelfEastWest].forEach(line=>{
    mk('path',{d:straight(toPoints(line,sx,sy)),fill:'none',stroke:'#fff','stroke-width':3,'stroke-dasharray':'0.5 6','stroke-linecap':'round'},g,'shelf-edge-over-ice');
  });
  if(P.key!=='a'){
    mk('path',{d:straight(toPoints(shelfSouth,sx,sy)),fill:'none',stroke:'#111','stroke-width':2.6,'stroke-dasharray':'0.5 6.5','stroke-linecap':'round'},g,'shelf-edge-south');
    mk('path',{d:straight(toPoints(shelfIsland,sx,sy)),fill:'none',stroke:'#111','stroke-width':2.2,'stroke-dasharray':'0.5 5','stroke-linecap':'round'},g,'shelf-edge-island');
  }
  mk('path',{d:straight(toPoints(shelfSpur,sx,sy)),fill:'none',stroke:'#111','stroke-width':2.6,'stroke-dasharray':'0.5 4.5','stroke-linecap':'round'},g,'shelf-edge-spur');
  // grounding lines
  const gl=mk('g',{filter:'url(#rough)'},g,'grounding-lines');
  [coastEast,groundingLine,groundingLineWest].forEach(line=>{
    mk('path',{d:straight(toPoints(line,sx,sy)),fill:'none',stroke:'#0a0a0a','stroke-width':2},gl,'present-grounding-line');
  });
  groundingLineIslands.forEach(line=>{
    mk('path',{d:straight(toPoints(line,sx,sy)),fill:'none',stroke:'#0a0a0a','stroke-width':2},gl,'grounding-line-island');
  });
  minimumGlDashes.forEach(seg=>{
    mk('path',{d:straight(toPoints(seg,sx,sy)),fill:'none',stroke:'#0a0a0a','stroke-width':4.4},g,'minimum-grounding-line-dash');
  });
  if(P.key==='a'){
    surfaceWhiteFlecks.forEach(seg=>{
      mk('path',{d:straight(toPoints(seg,sx,sy)),fill:'none',stroke:'#fff','stroke-width':3.4,'stroke-linecap':'round'},g,'white-fleck');
    });
  }
  // transect bundle
  const centre=[];for(let i=0;i<transectCentre.length;i+=2)centre.push([transectCentre[i],transectCentre[i+1]]);
  transectOffsets.forEach(k=>{
    const off=[];
    centre.forEach((p,i)=>{
      const a=centre[Math.max(i-1,0)],b=centre[Math.min(i+1,centre.length-1)];
      const dx=b[0]-a[0],dy=b[1]-a[1],len=Math.hypot(dx,dy)||1;
      off.push(p[0]-dy/len*transectHalfWidth[i]*k,p[1]+dx/len*transectHalfWidth[i]*k);
    });
    mk('path',{d:straight(toPoints(off,sx,sy)),fill:'none',stroke:'#0a0a0a','stroke-width':2.1,'stroke-dasharray':'7 2.5 2 2.5'},g,'transect-line');
  });
  // axes
  mk('line',{x1:left,x2:left,y1:top,y2:bottom,stroke:'#444','stroke-width':1.3},g,'y-axis-line');
  mk('line',{x1:left,x2:right,y1:bottom,y2:bottom,stroke:'#333','stroke-width':1.3},g,'x-axis-line');
  mapEastingTicks.forEach(v=>{
    mk('line',{x1:sx(v),x2:sx(v),y1:bottom,y2:bottom-6,stroke:'#333','stroke-width':1.1},g,'x-tick');
    label(g,sx(v),717,String(v),27.5,'middle','x-tick-label');
  });
  mapNorthingTicks.forEach(v=>{
    mk('line',{x1:left,x2:left+6,y1:sy(v),y2:sy(v),stroke:'#333','stroke-width':1.1},g,'y-tick');
    label(g,left-11,sy(v)+9,String(v),27.5,'end','y-tick-label');
  });
  // colorbar ticks
  const bx=v=>P.barLeft+(v-P.barMin)/(P.barMax-P.barMin)*(P.barRight-P.barLeft);
  P.barTicks.forEach(v=>{
    mk('line',{x1:bx(v),x2:bx(v),y1:102,y2:106,stroke:'#222','stroke-width':1},g,'colorbar-tick');
    label(g,bx(v),80,String(v),27.5,'middle','colorbar-tick-label');
  });
  // panel label
  if(P.key==='a')mk('rect',{x:145.5,y:155,width:53.5,height:47,fill:'#fff'},g,'panel-label-background');
  label(g,P.labelX,186,P.tag,32,'middle','panel-label');
  // markers
  mk('circle',{cx:sx(onsetPoint[0]),cy:sy(onsetPoint[1]),r:7.8,fill:'#f00'},g,'onset-of-basin-marker');
  const mx=sx(mtPoint[0]),my=sy(mtPoint[1]);
  mk('path',{d:'M'+(mx-15)+' '+(my-16)+'L'+(mx+15)+' '+(my+16)+'M'+(mx+15)+' '+(my-16)+'L'+(mx-15)+' '+(my+16),stroke:'#ee1c25','stroke-width':4.6,fill:'none'},g,'mt-measurement-marker');
});

// ---------- Draw transect chart ----------
const chart=document.getElementById('transectChart');
const xD=d=>141.3+d*0.818;
const yD=z=>803.3-z*(317.7/6000);
function profile(ds,zs,colour,width,name){
  const pts=ds.map((d,i)=>[xD(d),yD(zs[i])]);
  mk('path',{d:smoothProfile(pts),fill:'none',stroke:colour,'stroke-width':width,'stroke-linejoin':'round'},chart,name);
}
const sLineBlue='#4a8bbf';
[[surfaceLine1Dist,surfaceLine1Elev,surfaceTailUpperElev],[surfaceLine2Dist,surfaceLine2Elev,surfaceTailUpperElev],[surfaceLine3Dist,surfaceLine3Elev,surfaceTailLowerElev],[surfaceLine4Dist,surfaceLine4Elev,surfaceTailLowerElev]].forEach(p=>{
  const last=p[0][p[0].length-1];
  const ds=p[0].concat(surfaceTailDist.filter(v=>v>last));
  const zs=p[1].concat(p[2].filter((v,i)=>surfaceTailDist[i]>last));
  profile(ds,zs,sLineBlue,5,'surface-transect-line');
});
surfaceEndDist.forEach((ds,i)=>{profile(ds,surfaceEndElev[i],sLineBlue,5,'surface-transect-end');});
profile(surfaceShelfDist,surfaceShelfElev,sLineBlue,5,'surface-transect-shelf');
const bedLines=[[bedLine1Dist,bedLine1Elev],[bedLine2Dist,bedLine2Elev],[bedLine3Dist,bedLine3Elev],[bedLine4Dist,bedLine4Elev],[bedLine5Dist,bedLine5Elev]];
bedLines.forEach(p=>{profile(p[0],p[1],'#b8e7ab',5,'bed-transect-line');});
profile(bedAvgDist,bedAvgElev,'#52ad9f',5.5,'bed-average-line');
profile(surfaceAvgDist,surfaceAvgElev,'#2b2a68',5.5,'surface-average-line');
// vertical markers
mk('line',{x1:xD(minGlDistance[0]),x2:xD(minGlDistance[0]),y1:813,y2:yD(-6000),stroke:'#111','stroke-width':2,'stroke-dasharray':'15 7'},chart,'minimum-gl-line');
mk('line',{x1:xD(presentGlDistance[0]),x2:xD(presentGlDistance[0]),y1:yD(0),y2:yD(-6000),stroke:'#111','stroke-width':1.6},chart,'present-gl-line');
mk('line',{x1:xD(shelfDistance[0]),x2:xD(shelfDistance[0]),y1:807,y2:yD(-6000),stroke:'#111','stroke-width':2,'stroke-dasharray':'2 5.5'},chart,'shelf-edge-line');
// label box
mk('rect',{x:152,y:804,width:54,height:68,fill:'#fff'},chart,'panel-label-background');
label(chart,179,855,'(d)',32,'middle','panel-label');
// axes
mk('line',{x1:xD(0),x2:xD(0),y1:yD(0),y2:yD(-6000),stroke:'#555','stroke-width':1.3},chart,'y-axis-line');
mk('line',{x1:xD(0),x2:xD(1800),y1:yD(-6000),y2:yD(-6000),stroke:'#555','stroke-width':1.3},chart,'x-axis-line');
distanceTicks.forEach(v=>{
  mk('line',{x1:xD(v),x2:xD(v),y1:yD(-6000),y2:yD(-6000)-15,stroke:'#555','stroke-width':1.1},chart,'x-tick');
  label(chart,xD(v),1155,String(v),27,'middle','x-tick-label');
});
elevationTicks.forEach(v=>{
  mk('line',{x1:xD(0),x2:xD(0)+16,y1:yD(v),y2:yD(v),stroke:'#555','stroke-width':1.1},chart,'y-tick');
  label(chart,132,yD(v)+9,String(v),27,'end','y-tick-label');
});
// markers
mk('circle',{cx:xD(onsetProfile[0]),cy:yD(onsetProfile[1]),r:7.6,fill:'#f00'},chart,'onset-of-basin-marker');
const tx=xD(mtProfile[0]),ty=yD(mtProfile[1]);
mk('path',{d:'M'+(tx-18)+' '+(ty-18)+'L'+(tx+18)+' '+(ty+18)+'M'+(tx+18)+' '+(ty-18)+'L'+(tx-18)+' '+(ty+18),stroke:'#f00','stroke-width':6,fill:'none'},chart,'mt-measurement-marker');
document.getElementById('fig').appendChild(document.getElementById('legendGroup'));
</script>
</body>
</html>
